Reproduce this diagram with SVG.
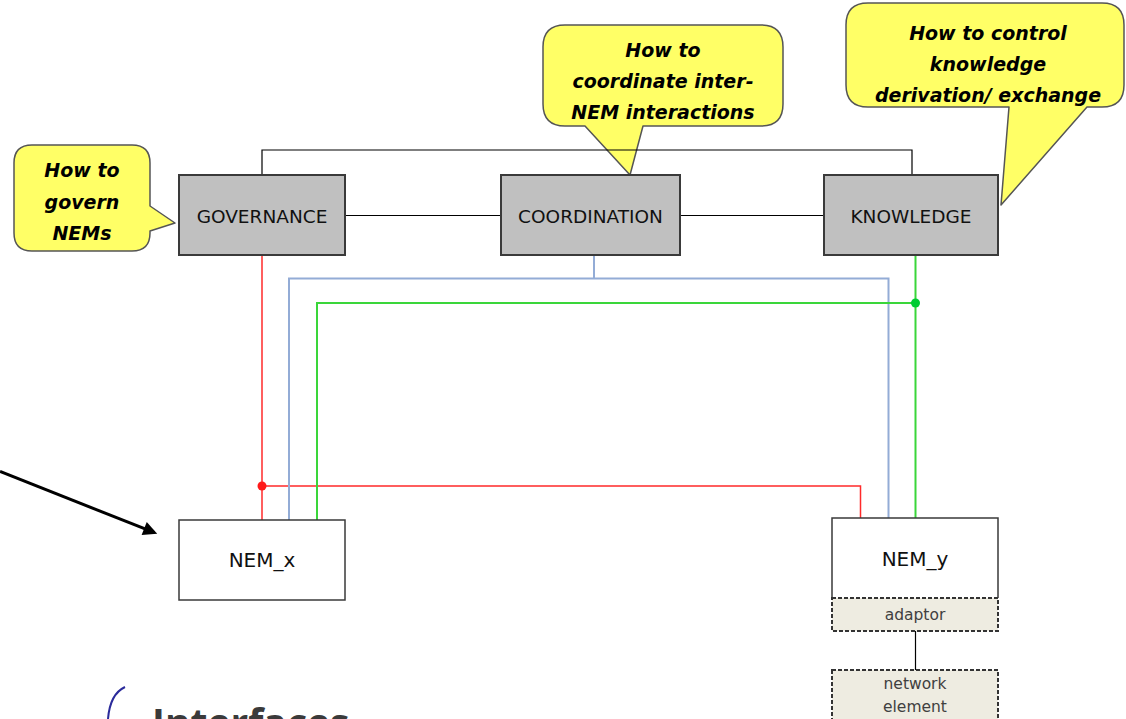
<svg xmlns="http://www.w3.org/2000/svg" width="1126" height="719" viewBox="0 0 1126 719">
  <style>
    .callout { fill: #ffff66; stroke: #555555; stroke-width: 1.5; stroke-linejoin: round; }
    .ctext { font-family: "DejaVu Sans", Verdana, sans-serif; font-weight: bold; font-style: italic; font-size: 19px; fill: #000; text-anchor: middle; }
    .mgmt { fill: #c0c0c0; stroke: #3a3a3a; stroke-width: 2; }
    .nem { fill: #ffffff; stroke: #3a3a3a; stroke-width: 1.5; }
    .dash { fill: #eeece1; stroke: #333333; stroke-width: 2; stroke-dasharray: 4 2; }
    .label { font-family: "DejaVu Sans", Verdana, sans-serif; font-size: 18.5px; fill: #111; text-anchor: middle; }
    .nemlabel { font-family: "DejaVu Sans", Verdana, sans-serif; font-size: 20px; fill: #111; text-anchor: middle; }
    .small { font-family: "DejaVu Sans", Verdana, sans-serif; font-size: 15.5px; fill: #404040; text-anchor: middle; }
    .link { fill: none; stroke: #000; stroke-width: 1.2; }
    .red { fill: none; stroke: #ff2a2a; stroke-width: 1.5; }
    .blue { fill: none; stroke: #93acd6; stroke-width: 2; }
    .green { fill: none; stroke: #3ad63a; stroke-width: 2; }
  </style>
  <defs>
    <marker id="arrowHead" viewBox="0 0 10 10" refX="8" refY="5" markerWidth="18" markerHeight="14" markerUnits="userSpaceOnUse" orient="auto">
      <path d="M0,0 L10,5 L0,10 z" fill="#000"/>
    </marker>
  </defs>

  <rect width="1126" height="719" fill="#ffffff"/>

  <!-- speech bubbles -->
  <g id="callout-governance">
    <path class="callout" d="M32,145 H132 Q150,145 150,163 V206 L175,223 L150,231 V233 Q150,251 132,251 H32 Q14,251 14,233 V163 Q14,145 32,145 Z"/>
    <text class="ctext" x="82" y="177">How to</text>
    <text class="ctext" x="82" y="208.5">govern</text>
    <text class="ctext" x="82" y="240">NEMs</text>
  </g>
  <g id="callout-coordination">
    <path class="callout" d="M565,25 H761 Q783,25 783,47 V104 Q783,126 761,126 H643 L630,175 L585,126 H565 Q543,126 543,104 V47 Q543,25 565,25 Z"/>
    <text class="ctext" x="663" y="57">How to</text>
    <text class="ctext" x="663" y="88">coordinate inter-</text>
    <text class="ctext" x="663" y="119">NEM interactions</text>
  </g>
  <g id="callout-knowledge">
    <path class="callout" d="M868,3 H1102 Q1124,3 1124,25 V85 Q1124,107 1102,107 H1087 L1001,205 L1009,107 H868 Q846,107 846,85 V25 Q846,3 868,3 Z"/>
    <text class="ctext" x="988" y="39.5">How to control</text>
    <text class="ctext" x="988" y="71">knowledge</text>
    <text class="ctext" x="988" y="102">derivation/ exchange</text>
  </g>

  <!-- connectors -->
  <g id="connectors">
    <path class="link" d="M262,175 V150 H912 V175"/>
    <path class="link" d="M345,215.5 H501"/>
    <path class="link" d="M680,215.5 H824"/>
    <path class="red" d="M262,255 V520"/>
    <path class="red" d="M262,486 H860.5 V518"/>
    <circle cx="262" cy="486" r="4.5" fill="#ff1a1a"/>
    <path class="blue" d="M594,255 V278.5" stroke-width="1.5"/>
    <path class="blue" d="M289,520 V278.5 H888.5 V518"/>
    <path class="green" d="M915.5,255 V518"/>
    <path class="green" d="M317,520 V303 H915.5"/>
    <circle cx="915.5" cy="303" r="4.5" fill="#00cc33"/>
    <path class="link" stroke-width="1.5" d="M915.5,631 V670"/>
    <path fill="none" stroke="#000" stroke-width="3" d="M0,471.5 L154.6,532.7" marker-end="url(#arrowHead)"/>
  </g>

  <!-- management functions -->
  <g id="governance">
    <rect class="mgmt" x="179" y="175" width="166" height="80"/>
    <text class="label" x="262" y="223">GOVERNANCE</text>
  </g>
  <g id="coordination">
    <rect class="mgmt" x="501" y="175" width="179" height="80"/>
    <text class="label" x="590.5" y="223">COORDINATION</text>
  </g>
  <g id="knowledge">
    <rect class="mgmt" x="824" y="175" width="174" height="80"/>
    <text class="label" x="911" y="223">KNOWLEDGE</text>
  </g>

  <!-- NEMs -->
  <g id="nem-x">
    <rect class="nem" x="179" y="520" width="166" height="80"/>
    <text class="nemlabel" x="262" y="567">NEM_x</text>
  </g>
  <g id="nem-y">
    <path class="nem" d="M832,598 V518 H998 V598"/>
    <text class="nemlabel" x="915" y="566">NEM_y</text>
  </g>
  <g id="adaptor">
    <rect class="dash" x="832" y="598" width="166" height="33"/>
    <text class="small" x="915" y="620">adaptor</text>
  </g>
  <g id="network-element">
    <rect class="dash" x="832" y="670" width="166" height="52"/>
    <text class="small" x="915" y="689">network</text>
    <text class="small" x="915" y="712">element</text>
  </g>

  <!-- heading at the foot -->
  <g id="interfaces">
    <path d="M125,687 Q110,694 108,719" fill="none" stroke="#2b2b9b" stroke-width="2"/>
    <text x="152" y="737" font-family="'Open Sans', 'Liberation Sans', sans-serif" font-weight="bold" font-size="39px" fill="#3a3a3a">Interfaces</text>
  </g>
</svg>
